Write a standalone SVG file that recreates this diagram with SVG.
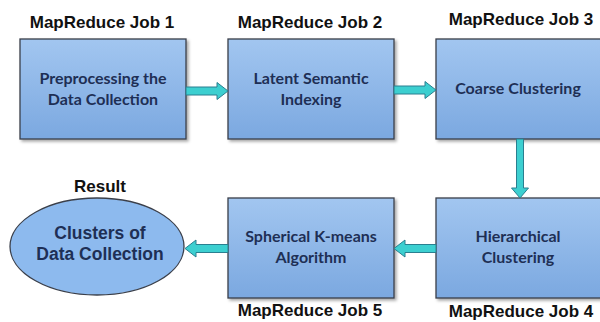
<svg xmlns="http://www.w3.org/2000/svg" width="600" height="322" viewBox="0 0 600 322">
<defs>
<linearGradient id="bg" x1="0" y1="0" x2="0" y2="1">
<stop offset="0" stop-color="#a2c6f0"/>
<stop offset="1" stop-color="#7ba8e0"/>
</linearGradient>
<filter id="sh" x="-10%" y="-10%" width="130%" height="130%">
<feDropShadow dx="2" dy="2" stdDeviation="1.5" flood-color="#000" flood-opacity="0.35"/>
</filter>
<style>
.box{fill:url(#bg);stroke:#3a3f4a;stroke-width:1.3;filter:url(#sh)}
.ell{fill:#8dbaee;stroke:#3a3f4a;stroke-width:1.3}
.t{font-family:Lato,"Open Sans",sans-serif;font-weight:bold;font-size:16px;fill:#1e2f55;text-anchor:middle}
.h{font-family:"Liberation Sans",Arial,sans-serif;font-weight:bold;font-size:17px;fill:#111;text-anchor:middle}
.e{font-family:"Liberation Sans",Arial,sans-serif;font-weight:bold;font-size:17.5px;fill:#1e2f55;text-anchor:middle}
.ar{fill:#3ccfd0;stroke:#2a7f90;stroke-width:1}
</style>
</defs>
<g id="labels">
<text class="h" x="102" y="28">MapReduce Job 1</text>
<text class="h" x="310" y="28">MapReduce Job 2</text>
<text class="h" x="521" y="25">MapReduce Job 3</text>
<text class="h" x="100" y="192">Result</text>
<text class="h" x="310" y="316">MapReduce Job 5</text>
<text class="h" x="521" y="317">MapReduce Job 4</text>
</g>
<g id="job1">
<rect class="box" x="20" y="39" width="166" height="100"/>
<text class="t" x="103" y="84">Preprocessing the</text>
<text class="t" x="103" y="105">Data Collection</text>
</g>
<g id="job2">
<rect class="box" x="228" y="39" width="166" height="100"/>
<text class="t" x="311" y="84">Latent Semantic</text>
<text class="t" x="311" y="105">Indexing</text>
</g>
<g id="job3">
<rect class="box" x="436" y="39" width="170" height="100"/>
<text class="t" x="518" y="94">Coarse Clustering</text>
</g>
<g id="job4">
<rect class="box" x="436" y="198" width="170" height="100"/>
<text class="t" x="518" y="242">Hierarchical</text>
<text class="t" x="518" y="263">Clustering</text>
</g>
<g id="job5">
<rect class="box" x="228" y="198" width="166" height="100"/>
<text class="t" x="311" y="242">Spherical K-means</text>
<text class="t" x="311" y="263">Algorithm</text>
</g>
<g id="result">
<ellipse class="ell" cx="97" cy="246.5" rx="87" ry="48.5"/>
<text class="e" x="100" y="239">Clusters of</text>
<text class="e" x="100" y="260">Data Collection</text>
</g>
<g id="connectors">
<path class="ar" d="M186 87 H217 V82.5 L228 91 L217 99.5 V95 H186 Z"/>
<path class="ar" d="M394 86 H425 V81.5 L436 90 L425 98.5 V94 H394 Z"/>
<path class="ar" d="M516.5 139 V188 H511.5 L520 198 L528.5 188 H523.5 V139 Z"/>
<path class="ar" d="M436 244.5 H405 V240 L394 248.5 L405 257 V252.5 H436 Z"/>
<path class="ar" d="M228 244.5 H196 V240 L185 248.5 L196 257 V252.5 H228 Z"/>
</g>
</svg>
